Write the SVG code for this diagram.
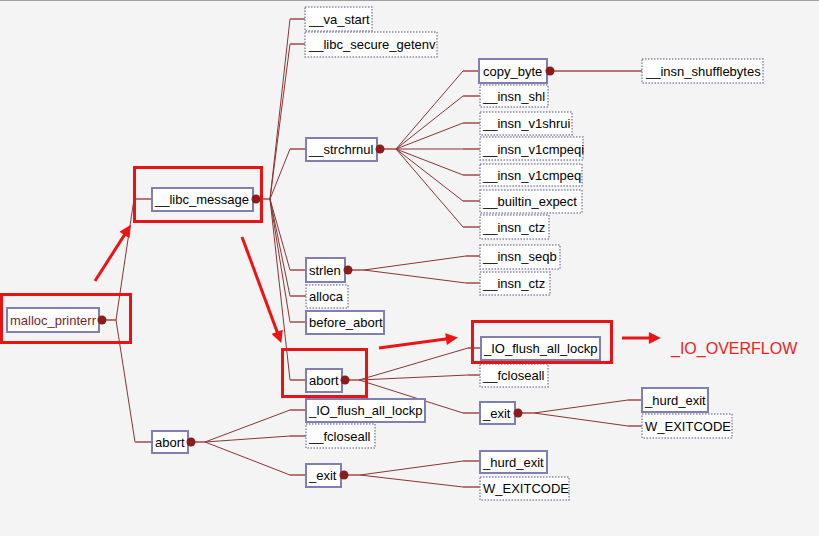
<svg xmlns="http://www.w3.org/2000/svg" width="819" height="536" viewBox="0 0 819 536">
<style>
.bg{fill:#f4f4f4}
.n rect{fill:#ffffff;stroke:#7f7fb4;stroke-width:2}
.n.d rect{stroke:#8a8aae;stroke-width:1.5;stroke-dasharray:1.5 1.5}
.n text{font-family:"Liberation Sans",Arial,sans-serif;font-size:13px;fill:#000}
.n.root text{fill:#7a1f1f}
.c path{fill:none;stroke:#8c3434;stroke-width:1}
.c .s{stroke:#b67474;stroke-width:2}
.dot{fill:#8b1c1c}
.hl rect{fill:none;stroke:#e81414;stroke-width:3}
.hl line{stroke:#ec1414;stroke-width:3}
.ov{font-family:"Liberation Sans",Arial,sans-serif;font-size:16px;fill:#e82424}
</style>
<defs>
<marker id="ah" viewBox="0 0 10 10" refX="3" refY="5" markerWidth="5" markerHeight="4" orient="auto"><path d="M0,0 L10,5 L0,10 z" fill="#ec1414"/></marker>
</defs>
<rect class="bg" x="0" y="0" width="819" height="536"/>
<line x1="0" y1="0.5" x2="819" y2="0.5" stroke="#a0a0a0" stroke-width="1"/>

<g class="c" id="connectors">
<!-- malloc_printerr -->
<path class="s" d="M102,320 H116"/>
<path d="M116,320 L134,199 M116,320 L135,442"/>
<path class="s" d="M134,199 H152 M135,442 H152"/>
<!-- __libc_message -->
<path class="s" d="M256,199 H270"/>
<path d="M270,199 L290,19 M270,199 L290,44 M270,199 L290,149 M270,199 L290,270 M270,199 L290,296 M270,199 L290,322 M270,199 L290,380"/>
<path class="s" d="M290,19 H305 M290,44 H305 M290,149 H306 M290,270 H306 M290,296 H306 M290,322 H306 M290,380 H306"/>
<!-- __strchrnul -->
<path class="s" d="M380,149 H396"/>
<path d="M396,149 L463,71 M396,149 L463,96 M396,149 L463,123 M396,149 L463,149 M396,149 L463,175 M396,149 L463,201 M396,149 L463,227"/>
<path class="s" d="M463,71 H479 M463,96 H480 M463,123 H480 M463,149 H480 M463,175 H480 M463,201 H480 M463,227 H480"/>
<!-- copy_byte -->
<path class="s" d="M550,71 H642"/>
<!-- strlen -->
<path class="s" d="M348,270 H364"/>
<path d="M364,270 L466,256 M364,270 L466,283"/>
<path class="s" d="M466,256 H480 M466,283 H480"/>
<!-- abort inner -->
<path class="s" d="M345,380 H359"/>
<path d="M359,380 L468,348 M359,380 L468,375 M359,380 L463,413"/>
<path class="s" d="M468,348 H481 M468,375 H480 M463,413 H480"/>
<!-- _exit inner -->
<path class="s" d="M518,413 H534"/>
<path d="M534,413 L628,400 M534,413 L628,426"/>
<path class="s" d="M628,400 H642 M628,426 H642"/>
<!-- abort outer -->
<path class="s" d="M191,442 H205"/>
<path d="M205,442 L290,410 M205,442 L290,436 M205,442 L290,475"/>
<path class="s" d="M290,410 H306 M290,436 H306 M290,475 H306"/>
<!-- _exit outer -->
<path class="s" d="M344,475 H360"/>
<path d="M360,475 L463,461 M360,475 L463,487"/>
<path class="s" d="M463,461 H480 M463,487 H480"/>
</g>

<g id="malloc_printerr" class="n root"><rect x="7" y="308" width="92" height="24"/><text x="10" y="325">malloc_printerr</text><circle class="dot" cx="102" cy="320" r="4.5"/></g>
<g id="libc_message" class="n"><rect x="152" y="188" width="101" height="23"/><text x="155" y="204">__libc_message</text><circle class="dot" cx="256" cy="199" r="4.5"/></g>
<g id="va_start" class="n d"><rect x="305" y="7" width="67" height="24"/><text x="309" y="24">__va_start</text></g>
<g id="libc_secure_getenv" class="n d"><rect x="305" y="32" width="132" height="25"/><text x="309" y="49">__libc_secure_getenv</text></g>
<g id="strchrnul" class="n"><rect x="306" y="138" width="71" height="23"/><text x="309" y="154">__strchrnul</text><circle class="dot" cx="380" cy="149" r="4.5"/></g>
<g id="copy_byte" class="n"><rect x="479" y="59" width="68" height="24"/><text x="483" y="76">copy_byte</text><circle class="dot" cx="550" cy="71" r="4.5"/></g>
<g id="insn_shufflebytes" class="n d"><rect x="642" y="59" width="121" height="24"/><text x="646" y="76">__insn_shufflebytes</text></g>
<g id="insn_shl" class="n d"><rect x="480" y="85" width="68" height="22"/><text x="483" y="101">__insn_shl</text></g>
<g id="insn_v1shrui" class="n d"><rect x="480" y="112" width="92" height="23"/><text x="483" y="128">__insn_v1shrui</text></g>
<g id="insn_v1cmpeqi" class="n d"><rect x="480" y="137" width="103" height="23"/><text x="483" y="154">__insn_v1cmpeqi</text></g>
<g id="insn_v1cmpeq" class="n d"><rect x="480" y="164" width="102" height="22"/><text x="483" y="180">__insn_v1cmpeq</text></g>
<g id="builtin_expect" class="n d"><rect x="480" y="190" width="102" height="23"/><text x="483" y="206">__builtin_expect</text></g>
<g id="insn_ctz_1" class="n d"><rect x="480" y="215" width="69" height="24"/><text x="483" y="232">__insn_ctz</text></g>
<g id="strlen" class="n"><rect x="306" y="258" width="39" height="24"/><text x="309" y="275">strlen</text><circle class="dot" cx="348" cy="270" r="4.5"/></g>
<g id="insn_seqb" class="n d"><rect x="480" y="245" width="80" height="24"/><text x="483" y="261">__insn_seqb</text></g>
<g id="insn_ctz_2" class="n d"><rect x="480" y="272" width="70" height="23"/><text x="483" y="288">__insn_ctz</text></g>
<g id="alloca" class="n d"><rect x="306" y="285" width="42" height="23"/><text x="309" y="301">alloca</text></g>
<g id="before_abort" class="n"><rect x="306" y="311" width="78" height="23"/><text x="309" y="327">before_abort</text></g>
<g id="abort_inner" class="n"><rect x="306" y="369" width="36" height="23"/><text x="309" y="385">abort</text><circle class="dot" cx="345" cy="380" r="4.5"/></g>
<g id="IO_flush_all_lockp_inner" class="n"><rect x="481" y="337" width="119" height="23"/><text x="484" y="353">_IO_flush_all_lockp</text></g>
<g id="fcloseall_inner" class="n d"><rect x="480" y="364" width="68" height="23"/><text x="483" y="380">__fcloseall</text></g>
<g id="exit_inner" class="n"><rect x="480" y="402" width="35" height="22"/><text x="483" y="418">_exit</text><circle class="dot" cx="518" cy="413" r="4.5"/></g>
<g id="hurd_exit_inner" class="n"><rect x="642" y="388" width="66" height="24"/><text x="645" y="405">_hurd_exit</text></g>
<g id="W_EXITCODE_inner" class="n d"><rect x="642" y="414" width="90" height="24"/><text x="645" y="431">W_EXITCODE</text></g>
<g id="abort_outer" class="n"><rect x="152" y="431" width="36" height="22"/><text x="155" y="447">abort</text><circle class="dot" cx="191" cy="442" r="4.5"/></g>
<g id="IO_flush_all_lockp_outer" class="n"><rect x="306" y="399" width="119" height="23"/><text x="309" y="415">_IO_flush_all_lockp</text></g>
<g id="fcloseall_outer" class="n d"><rect x="306" y="424" width="69" height="24"/><text x="309" y="441">__fcloseall</text></g>
<g id="exit_outer" class="n"><rect x="306" y="464" width="35" height="23"/><text x="309" y="480">_exit</text><circle class="dot" cx="344" cy="475" r="4.5"/></g>
<g id="hurd_exit_outer" class="n"><rect x="480" y="451" width="67" height="22"/><text x="483" y="467">_hurd_exit</text></g>
<g id="W_EXITCODE_outer" class="n d"><rect x="480" y="477" width="89" height="23"/><text x="483" y="493">W_EXITCODE</text></g>

<g id="annotations" class="hl">
<rect x="1.5" y="294.5" width="129" height="48"/>
<rect x="134.5" y="167.5" width="127" height="54"/>
<rect x="282.5" y="349.5" width="84" height="47"/>
<rect x="472.5" y="321.5" width="139" height="41"/>
<line x1="95" y1="281" x2="126.4" y2="231.9" marker-end="url(#ah)"/>
<line x1="242" y1="237" x2="278.4" y2="335.2" marker-end="url(#ah)"/>
<line x1="379" y1="348" x2="449.6" y2="338.6" marker-end="url(#ah)"/>
<line x1="622" y1="338" x2="652.5" y2="338" marker-end="url(#ah)"/>
<text class="ov" x="671" y="354">_IO_OVERFLOW</text>
</g>
</svg>
